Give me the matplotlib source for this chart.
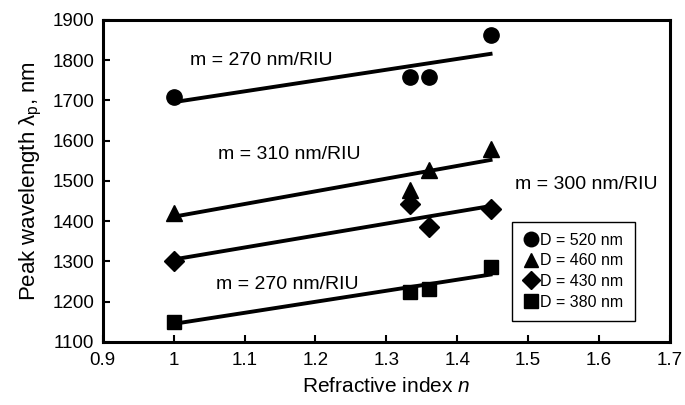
import numpy as np
import matplotlib.pyplot as plt

plt.rcParams['font.family'] = ['Liberation Sans', 'DejaVu Sans']
plt.rcParams['mathtext.fontset'] = 'custom'
plt.rcParams['mathtext.rm'] = 'Liberation Sans'
plt.rcParams['mathtext.it'] = 'Liberation Sans:italic'

# refractive index of the surrounding media
n = [1.0, 1.333, 1.36, 1.447]

# peak wavelengths (nm) for each disk diameter
d520 = [1709, 1758, 1758, 1863]
d460 = [1420, 1478, 1527, 1578]
d430 = [1300, 1442, 1385, 1430]
d380 = [1150, 1225, 1230, 1286]

labels = ['D = 520 nm', 'D = 460 nm', 'D = 430 nm', 'D = 380 nm']
slopes = ['m = 270 nm/RIU', 'm = 310 nm/RIU', 'm = 300 nm/RIU', 'm = 270 nm/RIU']

fig = plt.figure(figsize=(6.85, 4.05), dpi=100)
ax = fig.add_axes([0.150, 0.156, 0.828, 0.795])

series = [d520, d460, d430, d380]
markers = ['o', '^', 'D', 's']
msizes = [11, 11, 10, 10]

x = np.array(n)
for y, m, ms, lab in zip(series, markers, msizes, labels):
    ax.plot(x, y, linestyle='none', marker=m, markersize=ms, color='black',
            label=lab, zorder=3)
    k, b = np.polyfit(x, y, 1)
    xf = np.array([x.min(), x.max()])
    ax.plot(xf, k * xf + b, color='black', linewidth=2.8, zorder=2)

# slope annotations
ax.text(1.023, 1800, slopes[0], fontsize=14, va='center')
ax.text(1.062, 1565, slopes[1], fontsize=14, va='center')
ax.text(1.481, 1490, slopes[2], fontsize=14, va='center')
ax.text(1.060, 1243, slopes[3], fontsize=14, va='center')

ax.set_xlim(0.9, 1.7)
ax.set_ylim(1100, 1900)
ax.set_xticks(np.arange(0.9, 1.71, 0.1))
ax.set_xticklabels(['0.9', '1', '1.1', '1.2', '1.3', '1.4', '1.5', '1.6', '1.7'])
ax.set_yticks(np.arange(1100, 1901, 100))

ax.tick_params(direction='in', length=5, width=1.5, labelsize=13.5, colors='black')
ax.tick_params(axis='x', pad=7)
ax.tick_params(axis='y', pad=6)
for s in ax.spines.values():
    s.set_linewidth(2.2)

ax.set_xlabel('Refractive index $n$', fontsize=15, labelpad=6)
ax.set_ylabel(r'Peak wavelength λ$_\mathrm{p}$, nm', fontsize=16, labelpad=6)

leg = ax.legend(loc='upper left', bbox_to_anchor=(0.721, 0.373), borderaxespad=0,
                fontsize=11.5, handlelength=1.0, handletextpad=0.1,
                labelspacing=0.35, fancybox=False, edgecolor='black',
                framealpha=1, borderpad=0.7, markerscale=0.95)
leg.get_frame().set_linewidth(1.0)

fig.savefig('out.png', dpi=100)
